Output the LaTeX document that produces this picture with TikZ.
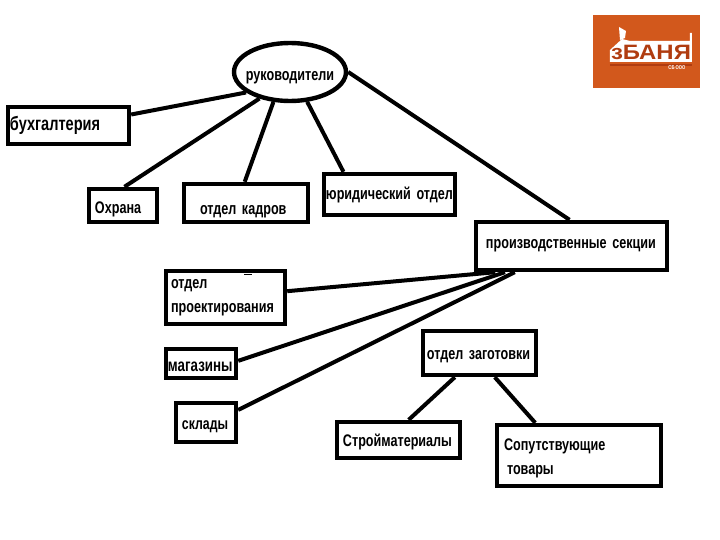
\documentclass[tikz,border=0pt]{standalone}
\usepackage{fontspec}
\setmainfont{Liberation Sans}[FakeStretch=0.75]
\newfontfamily\logofont{Liberation Sans}[FakeStretch=1.15]
\usetikzlibrary{calc,shapes.geometric}
\definecolor{logoor}{HTML}{D2581C}
\definecolor{logodk}{HTML}{B03C10}
\tikzset{
  box/.style={draw=black,fill=white,line width=2.2pt,inner sep=0pt,font=\fontsize{8.4pt}{12pt}\selectfont\bfseries,align=left},
  link/.style={draw=black,line width=2pt},
}
\newcommand{\bx}[7]{\node[box,minimum width={(#4-#2-4)*0.5pt},minimum height={(#5-#3-4)*0.5pt},text width={(#4-#2-2*#6)*0.5pt}] (#1) at ({(#2+#4)/2},{(#3+#5)/2}) {#7};}
\newcommand{\st}[1]{\rule{0pt}{#1pt}}
\begin{document}
\begin{tikzpicture}[x=0.5pt,y=-0.5pt]
\useasboundingbox (0,0) rectangle (720,540);
\fill[white] (0,0) rectangle (720,540);
\node[ellipse,draw=black,fill=white,line width=2.2pt,inner sep=0pt,minimum width=56pt,minimum height=29pt,font=\fontsize{8.4pt}{10pt}\selectfont\bfseries] (ruk) at (290,72) {\makebox[0pt]{\st{10}руководители}};
\bx{buh}{6}{105}{131}{146}{4}{\mbox{\fontsize{9.7pt}{12pt}\selectfont бухгалтерия}}
\bx{ohr}{87}{187}{159}{224}{8}{\mbox{\st{10}Охрана}}
\bx{kad}{182}{182}{310}{224}{18}{\mbox{\st{13}отдел кадров}}
\bx{yur}{322}{172}{457}{217}{4}{\mbox{юридический отдел}}
\bx{pro}{474}{220}{669}{272}{12}{\mbox{производственные секции}}
\bx{prk}{164}{269}{287}{326}{7}{\fontsize{8.4pt}{13pt}\selectfont\mbox{отдел}\\\mbox{проектирования}}
\bx{mag}{164}{347}{238}{380}{4}{\mbox{\st{8}\fontsize{8.9pt}{12pt}\selectfont магазины}}
\bx{skl}{174}{401}{238}{444}{8}{\mbox{\st{9}\fontsize{8.2pt}{12pt}\selectfont склады}}
\bx{zag}{421}{329}{538}{377}{6}{\mbox{\st{8}отдел заготовки}}
\bx{str}{335}{420}{462}{460}{8}{\mbox{\st{8}Стройматериалы}}
\bx{sop}{495}{423}{663}{488}{9}{\fontsize{8.4pt}{11pt}\selectfont\mbox{\st{9}Сопутствующие}\\\hspace{1.5pt}\mbox{товары}}
\draw[link] (buh.east) ++(0,-11) coordinate (a1) -- (ruk.205);
\draw[link] ($(ohr.north west)!0.52!(ohr.north east)$) -- (ruk.221);
\draw[link] ($(kad.north west)!0.49!(kad.north east)$) -- (ruk.241);
\draw[link] ($(yur.north west)!0.16!(yur.north east)$) -- (ruk.300);
\draw[link] (ruk.0) -- ($(pro.north west)!0.49!(pro.north east)$);
\draw[link] ($(pro.south west)!0.11!(pro.south east)$) -- ($(prk.north east)!0.39!(prk.south east)$);
\draw[link] ($(pro.south west)!0.16!(pro.south east)$) -- ($(mag.north east)!0.42!(mag.south east)$);
\draw[link] ($(pro.south west)!0.21!(pro.south east)$) -- ($(skl.north east)!0.21!(skl.south east)$);
\draw[link] ($(zag.south west)!0.29!(zag.south east)$) -- ($(str.north west)!0.58!(str.north east)$);
\draw[link] ($(zag.south west)!0.63!(zag.south east)$) -- ($(sop.north west)!0.24!(sop.north east)$);
\fill[black] (244,274) rectangle (252,275.5);
% logo
\fill[logoor] (593,15) rectangle (700,88);
\fill[white] (610,62) -- (610,50) -- (622,39) -- (630,41) -- (690,41) -- (690,33) -- (692,33) -- (692,62) -- cycle;
\fill[white] (619,27) -- (626,31) -- (625,38) -- (620,40) -- cycle;
\fill[logodk] (610,64) rectangle (692,66);
\node[inner sep=0pt,text=logodk,font=\logofont\fontsize{10.4pt}{12pt}\selectfont\bfseries] (lg) at (651,52) {зБАНЯ};
\node[inner sep=0pt,text=white,font=\fontsize{2.8pt}{3pt}\selectfont\bfseries] (lg2) at (677,68) {СБ ООО};
\end{tikzpicture}
\end{document}
